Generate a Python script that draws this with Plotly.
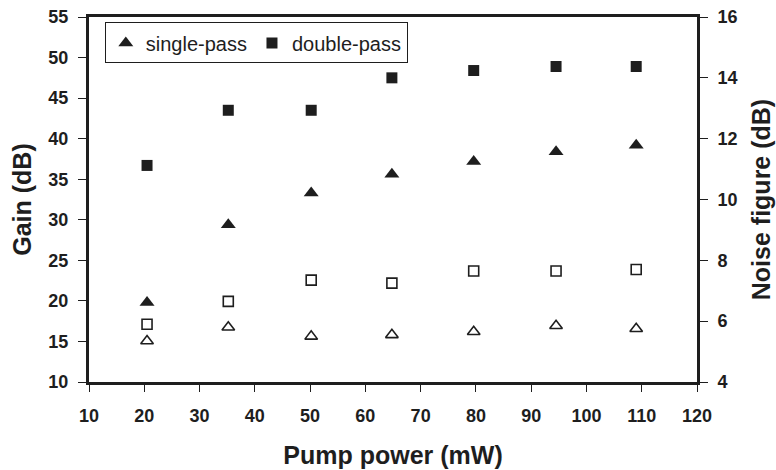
import plotly.graph_objects as go

pump_power = [20.5, 35.2, 50.2, 64.8, 79.6, 94.5, 109.0]
gain_single = [19.8, 29.4, 33.3, 35.6, 37.2, 38.4, 39.2]
gain_double = [36.7, 43.5, 43.5, 47.5, 48.4, 48.9, 48.9]
nf_single = [5.35, 5.8, 5.5, 5.55, 5.65, 5.85, 5.75]
nf_double = [5.9, 6.65, 7.35, 7.25, 7.65, 7.65, 7.7]

INK = "#1e1e1e"
FONT = "Liberation Sans, Arial, sans-serif"

fig = go.Figure()
fig.add_trace(go.Scatter(x=pump_power, y=gain_single, mode="markers", name="single-pass",
                         marker=dict(symbol="triangle-up", size=13, color=INK)))
fig.add_trace(go.Scatter(x=pump_power, y=gain_double, mode="markers", name="double-pass",
                         marker=dict(symbol="square", size=11, color=INK)))
fig.add_trace(go.Scatter(x=pump_power, y=nf_single, mode="markers", yaxis="y2", showlegend=False,
                         marker=dict(symbol="triangle-up-open", size=11, color=INK, line=dict(width=1.6, color=INK))))
fig.add_trace(go.Scatter(x=pump_power, y=nf_double, mode="markers", yaxis="y2", showlegend=False,
                         marker=dict(symbol="square-open", size=10, color=INK, line=dict(width=1.6, color=INK))))

tickfont = dict(family=FONT, size=18, color=INK, weight="bold")
titlefont = dict(family=FONT, size=25, color=INK, weight="bold")

fig.update_layout(
    width=776, height=470,
    margin=dict(l=89, r=79, t=17, b=88, autoexpand=False),
    paper_bgcolor="white", plot_bgcolor="white",
    showlegend=True,
    legend=dict(x=0.026, y=0.985, xanchor="left", yanchor="top", orientation="h",
                bgcolor="white", bordercolor=INK, borderwidth=1,
                font=dict(family=FONT, size=20, color=INK)),
    xaxis=dict(range=[10, 120], dtick=10, tick0=10, showgrid=False, zeroline=False,
               automargin=False,
               showline=True, linewidth=3, linecolor=INK, mirror=True,
               ticks="outside", ticklen=7, tickwidth=1, tickcolor=INK,
               ticklabelstandoff=8, tickfont=tickfont,
               title=dict(text="Pump power (mW)", font=titlefont, standoff=22)),
    yaxis=dict(range=[10, 55], dtick=5, tick0=10, showgrid=False, zeroline=False,
               automargin=False,
               showline=True, linewidth=3, linecolor=INK,
               ticks="outside", ticklen=8, tickwidth=1, tickcolor=INK,
               ticklabelstandoff=6, tickfont=tickfont,
               title=dict(text="Gain (dB)", font=titlefont, standoff=10)),
    yaxis2=dict(range=[4, 16], dtick=2, tick0=4, overlaying="y", side="right",
                automargin=False,
                showgrid=False, zeroline=False,
                showline=True, linewidth=3, linecolor=INK,
                ticks="outside", ticklen=8, tickwidth=1, tickcolor=INK,
                ticklabelstandoff=6, tickfont=tickfont,
                title=dict(text="Noise figure (dB)", font=titlefont, standoff=16)),
)

fig.write_html("out.html")
